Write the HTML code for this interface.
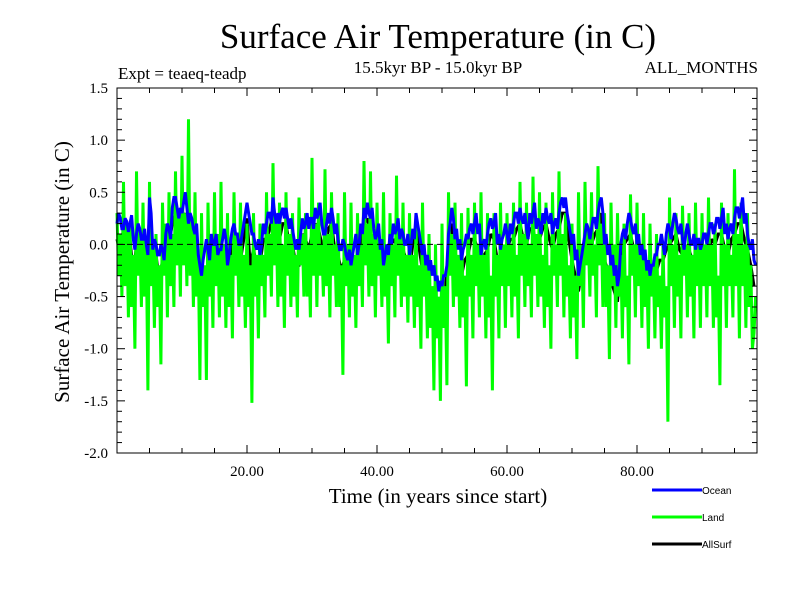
<!DOCTYPE html>
<html><head><meta charset="utf-8"><style>
html,body{margin:0;padding:0;background:#fff;}
svg{display:block;}
</style></head><body>
<svg id="chart" width="800" height="600" xmlns="http://www.w3.org/2000/svg">
<rect width="800" height="600" fill="#fff"/>
<text x="438" y="48" text-anchor="middle" font-family="Liberation Serif, serif" font-size="35">Surface Air Temperature (in C)</text>
<text x="118" y="79" font-family="Liberation Serif, serif" font-size="17">Expt = teaeq-teadp</text>
<text x="438" y="73" text-anchor="middle" font-family="Liberation Serif, serif" font-size="17">15.5kyr BP - 15.0kyr BP</text>
<text x="758" y="73" text-anchor="end" font-family="Liberation Serif, serif" font-size="17">ALL_MONTHS</text>
<text transform="translate(69,272) rotate(-90)" text-anchor="middle" font-family="Liberation Serif, serif" font-size="21">Surface Air Temperature (in C)</text>
<text x="438" y="503" text-anchor="middle" font-family="Liberation Serif, serif" font-size="21">Time (in years since start)</text>
<g id="plot"></g>
<g id="axes"></g>
<g id="legend"></g>
</svg>
<script>
const yTicks=[1.5,1.0,0.5,0.0,-0.5,-1.0,-1.5,-2.0];
const yTickLabels=["1.5","1.0","0.5","0.0","-0.5","-1.0","-1.5","-2.0"];
const xTicks=[20,40,60,80];
const xTickLabels=["20.00","40.00","60.00","80.00"];
const seriesNames=["Ocean","Land","AllSurf"];
const timeStep=0.25;
const allSurfStep=0.5;
const landValues=[0.3,-0.3,0.1,-0.5,0.6,-0.4,0.2,-0.7,0.2,-0.6,-0.1,-1.0,0.7,-0.3,0.1,-0.6,0.4,-0.5,0.0,-1.4,
0.6,-0.4,0.0,-0.8,0.1,-0.6,-0.2,-1.15,0.4,-0.3,0.2,-0.7,0.5,-0.4,0.1,-0.6,0.7,-0.2,0.3,-0.5,
0.85,-0.2,0.3,-0.4,1.2,-0.3,0.2,-0.6,0.5,-0.5,-0.1,-1.3,0.3,-0.6,-0.2,-1.3,0.4,-0.5,0.0,-0.8,
0.5,-0.4,0.1,-0.7,0.6,-0.5,0.0,-0.8,0.3,-0.6,-0.1,-0.9,0.5,-0.3,0.1,-0.6,0.4,-0.5,-0.1,-0.8,
0.2,-0.6,-0.2,-1.52,0.3,-0.5,-0.1,-0.9,0.2,-0.4,-0.1,-0.7,0.5,-0.3,0.1,-0.5,0.78,-0.2,0.2,-0.6,
0.4,-0.5,0.0,-0.8,0.5,-0.3,0.1,-0.6,0.3,-0.5,-0.1,-0.7,0.45,-0.2,0.1,-0.5,0.3,-0.5,0.0,-0.7,
0.83,-0.3,0.2,-0.6,0.4,-0.3,0.0,-0.5,0.72,-0.4,0.1,-0.7,0.5,-0.3,0.0,-0.6,0.3,-0.6,-0.2,-1.25,
0.5,-0.4,0.0,-0.7,0.4,-0.5,-0.1,-0.8,0.3,-0.4,0.0,-0.6,0.8,-0.2,0.2,-0.5,0.7,-0.4,0.1,-0.7,
0.4,-0.3,0.0,-0.6,0.5,-0.5,-0.1,-0.95,0.3,-0.4,0.0,-0.7,0.66,-0.3,0.1,-0.6,0.4,-0.5,-0.1,-0.75,
0.3,-0.5,-0.1,-0.8,0.2,-0.6,-0.2,-1.0,0.4,-0.5,-0.2,-0.9,0.1,-0.8,-0.4,-1.4,0.0,-0.9,-0.5,-1.5,
0.2,-0.8,-0.4,-1.35,0.5,-0.3,0.1,-0.6,0.4,-0.5,-0.1,-0.8,0.3,-0.7,-0.3,-1.36,0.35,-0.5,-0.1,-0.9,
0.4,-0.4,0.0,-0.7,0.5,-0.5,-0.1,-0.9,0.3,-0.7,-0.3,-1.4,0.3,-0.5,-0.1,-0.9,0.4,-0.4,0.0,-0.8,
0.3,-0.4,0.0,-0.7,0.4,-0.5,-0.1,-0.9,0.6,-0.3,0.1,-0.6,0.4,-0.4,0.0,-0.7,0.65,-0.3,0.1,-0.6,
0.5,-0.5,-0.1,-0.8,0.4,-0.6,-0.2,-1.0,0.5,-0.3,0.0,-0.6,0.7,-0.3,0.1,-0.7,0.3,-0.5,-0.2,-0.9,
0.2,-0.7,-0.3,-1.1,0.5,-0.4,0.0,-0.8,0.6,-0.2,0.1,-0.5,0.5,-0.3,0.0,-0.7,0.75,-0.2,0.2,-0.6,
0.3,-0.6,-0.2,-1.1,0.4,-0.4,0.0,-0.8,0.3,-0.5,-0.1,-0.9,0.2,-0.6,-0.3,-1.15,0.48,-0.3,0.0,-0.7,
0.4,-0.4,0.0,-0.8,0.3,-0.6,-0.2,-1.0,0.2,-0.5,-0.2,-0.9,0.1,-0.6,-0.3,-1.0,0.0,-0.7,-0.4,-1.7,
0.45,-0.4,0.0,-0.8,0.3,-0.5,-0.1,-0.9,0.37,-0.3,0.0,-0.7,0.3,-0.5,-0.1,-0.9,0.4,-0.4,0.0,-0.8,
0.3,-0.4,0.0,-0.7,0.45,-0.4,0.0,-0.8,0.2,-0.7,-0.3,-1.35,0.4,-0.4,0.0,-0.8,0.3,-0.4,-0.1,-0.7,
0.72,-0.4,0.1,-0.9,0.4,-0.4,0.0,-0.8,0.3,-0.6,-0.2,-1.0,-0.85,-0.5];
const oceanValues=[0.2,0.3,0.25,0.15,0.15,0.25,0.22,0.12,0.2,0.28,0.05,-0.05,0.1,0.2,0.15,0.05,0.05,0.15,0.0,-0.1,
0.45,0.3,-0.05,0.05,0.0,-0.1,-0.1,0.0,-0.05,-0.15,0.1,0.2,0.15,0.05,0.35,0.45,0.45,0.35,0.25,0.35,
0.3,0.4,0.5,0.35,0.2,0.3,0.25,0.15,0.1,0.2,-0.1,-0.2,-0.3,-0.15,-0.05,0.05,-0.05,-0.15,0.1,0.0,
0.0,0.1,-0.1,-0.05,-0.05,0.05,0.15,0.05,-0.2,-0.1,0.05,0.15,0.2,0.1,0.1,0.0,0.0,0.1,0.2,0.3,
0.4,0.3,0.2,0.1,0.1,0.0,-0.05,0.05,-0.1,0.0,0.2,0.1,0.2,0.3,0.3,0.2,0.45,0.3,0.2,0.3,
0.2,0.3,0.35,0.25,0.35,0.25,0.15,0.25,0.15,0.05,-0.05,0.05,-0.05,0.1,0.25,0.15,0.2,0.3,0.15,0.25,
0.25,0.15,0.35,0.25,0.3,0.4,0.2,0.1,0.1,0.2,0.3,0.2,0.35,0.25,0.1,0.2,0.05,-0.05,-0.05,0.05,
0.0,-0.1,-0.15,-0.05,-0.2,-0.1,0.0,0.1,-0.1,0.0,0.2,0.1,0.35,0.25,0.4,0.3,0.25,0.35,0.15,0.05,
0.1,0.2,-0.05,0.05,-0.2,-0.1,0.0,-0.1,0.1,0.0,0.2,0.1,0.15,0.25,0.05,0.15,0.1,0.0,0.0,0.1,
-0.1,0.0,0.15,0.05,0.3,0.2,0.1,0.0,-0.1,0.0,-0.2,-0.1,-0.25,-0.15,-0.3,-0.2,-0.35,-0.3,-0.45,-0.35,
-0.4,-0.3,-0.3,-0.2,0.1,0.2,0.35,0.25,0.05,0.15,-0.05,0.05,-0.15,-0.05,0.0,0.1,0.05,0.15,0.2,0.1,
0.2,0.3,0.1,0.2,-0.1,0.0,0.05,-0.05,0.1,0.2,0.25,0.15,0.2,0.3,0.0,0.1,-0.05,0.05,0.1,0.2,
0.1,0.0,0.2,0.1,0.2,0.3,0.3,0.2,0.35,0.25,0.2,0.3,0.15,0.05,0.3,0.2,0.3,0.4,0.15,0.25,
0.2,0.1,0.3,0.2,0.35,0.25,0.2,0.3,0.1,0.2,0.25,0.15,0.3,0.4,0.45,0.35,0.45,0.3,0.2,0.1,
0.0,0.1,-0.15,-0.05,-0.3,-0.2,-0.1,0.0,0.1,0.2,0.15,0.05,0.15,0.25,0.25,0.15,0.3,0.4,0.45,0.3,
0.0,0.1,-0.1,0.0,-0.2,-0.1,-0.3,-0.2,-0.4,-0.3,0.0,0.1,0.15,0.05,0.2,0.3,0.25,0.15,0.1,0.2,
0.0,0.1,-0.1,0.0,-0.15,-0.05,-0.25,-0.15,-0.3,-0.2,-0.2,-0.1,-0.1,0.0,0.0,0.1,0.0,-0.1,0.1,0.2,
0.15,0.05,0.2,0.3,0.25,0.15,0.1,0.2,0.05,-0.05,0.1,0.2,0.1,0.0,0.0,0.1,-0.05,0.05,0.05,-0.05,
0.0,0.1,0.1,0.0,0.1,0.2,0.2,0.1,0.15,0.25,0.25,0.15,0.25,0.35,0.1,0.2,0.05,0.15,0.2,0.1,
0.25,0.35,0.35,0.25,0.35,0.45,0.2,0.3,0.1,0.0,-0.05,0.05,-0.15,-0.2];
const allSurfValues=[0.05,-0.1,0.0,-0.15,0.05,-0.3,0.0,-0.2,-0.1,-0.35,
0.3,-0.2,-0.1,-0.35,-0.15,-0.05,0.0,0.2,0.3,0.05,
0.2,0.3,0.05,0.0,-0.05,-0.25,-0.45,-0.3,-0.2,-0.05,
-0.15,-0.25,-0.2,0.0,-0.35,-0.1,0.05,-0.05,-0.15,0.05,
0.25,-0.2,-0.05,-0.2,-0.2,0.05,0.05,0.15,0.3,0.0,
0.05,0.2,0.2,0.0,0.0,-0.2,-0.2,0.1,0.05,-0.05,
0.1,0.2,0.15,0.0,-0.05,0.15,0.2,-0.05,-0.1,-0.25,
-0.15,-0.3,-0.35,-0.15,-0.25,0.05,0.2,0.25,0.1,0.0,
-0.05,-0.2,-0.35,-0.15,-0.05,0.05,0.0,-0.1,-0.05,-0.15,
-0.25,0.0,0.15,-0.05,-0.25,-0.35,-0.4,-0.45,-0.5,-0.62,
-0.55,-0.45,-0.05,0.2,-0.1,-0.2,-0.3,-0.15,-0.1,0.05,
0.05,-0.05,-0.25,-0.1,-0.05,0.1,0.05,-0.15,-0.2,-0.05,
-0.05,0.05,0.05,0.15,0.2,0.05,0.0,0.15,0.15,0.0,
0.05,0.15,0.2,0.05,-0.05,0.1,0.15,0.3,0.3,0.05,
-0.15,-0.3,-0.45,-0.25,-0.05,0.0,0.0,0.1,0.15,0.3,
-0.15,-0.25,-0.35,-0.45,-0.55,-0.15,0.0,0.05,0.1,-0.05,
-0.15,-0.25,-0.3,-0.4,-0.45,-0.35,-0.25,-0.15,-0.15,-0.05,
0.0,0.05,0.1,-0.05,-0.1,-0.05,-0.05,-0.15,-0.2,-0.1,
-0.15,-0.05,-0.05,0.05,0.0,0.1,0.1,-0.05,-0.1,0.05,
0.1,0.2,0.2,0.05,-0.05,-0.2,-0.4];

const NS="http://www.w3.org/2000/svg";
const L=117,R=757,T=88,B=453;
const xMin=0,xMax=98.46,yMin=-2.0,yMax=1.5;
function xs(v){return L+(v-xMin)/(xMax-xMin)*(R-L);}
function ys(v){return B-(v-yMin)/(yMax-yMin)*(B-T);}
function mk(tag,attrs,parent){const e=document.createElementNS(NS,tag);for(const k in attrs)e.setAttribute(k,attrs[k]);parent.appendChild(e);return e;}
const plot=document.getElementById('plot');
const axes=document.getElementById('axes');
const legend=document.getElementById('legend');

function drawSeries(vals,step,color,width,name){
  const pts=vals.map((v,i)=>xs(i*step).toFixed(1)+','+ys(v).toFixed(1)).join(' ');
  const p=mk('polyline',{points:pts,fill:'none',stroke:color,'stroke-width':width,'stroke-linejoin':'miter','stroke-miterlimit':2},plot);
  
  
}
drawSeries(allSurfValues,allSurfStep,'#000000',3,'allsurf-series');
drawSeries(landValues,timeStep,'#00ff00',3,'land-series');
drawSeries(oceanValues,timeStep,'#0000ff',3,'ocean-series');

const zl=mk('line',{x1:L,x2:R,y1:ys(0),y2:ys(0),stroke:'#000','stroke-width':1,'stroke-dasharray':'6,4'},plot);



const frame=mk('rect',{x:L,y:T,width:R-L,height:B-T,fill:'none',stroke:'#000','stroke-width':1},axes);



for(let v=-2.0;v<=1.5001;v+=0.1){
  const y=ys(v);const major=Math.abs(v*2-Math.round(v*2))<1e-6;
  const len=major?8:5;
  mk('line',{x1:L,x2:L+len,y1:y,y2:y,stroke:'#000','stroke-width':1},axes);
  mk('line',{x1:R,x2:R-len,y1:y,y2:y,stroke:'#000','stroke-width':1},axes);
}
for(let v=5;v<xMax;v+=5){
  const x=xs(v);const major=v%20===0;const len=major?8:5;
  mk('line',{x1:x,x2:x,y1:B,y2:B-len,stroke:'#000','stroke-width':1},axes);
  mk('line',{x1:x,x2:x,y1:T,y2:T+len,stroke:'#000','stroke-width':1},axes);
}
yTicks.forEach((v,i)=>{
  const t=mk('text',{x:L-9,y:ys(v)+5,'text-anchor':'end','font-family':'Liberation Serif, serif','font-size':15},axes);
  t.textContent=yTickLabels[i];
  
  
});
xTicks.forEach((v,i)=>{
  const t=mk('text',{x:xs(v),y:B+23,'text-anchor':'middle','font-family':'Liberation Serif, serif','font-size':15},axes);
  t.textContent=xTickLabels[i];
  
  
});

const legColors=['#0000ff','#00ff00','#000000'];
seriesNames.forEach((n,i)=>{
  const y=490+i*27;
  const g=mk('g',{},legend);
  
  
  mk('line',{x1:652,x2:702,y1:y,y2:y,stroke:legColors[i],'stroke-width':3},g);
  const t=mk('text',{x:702,y:y+4,'font-family':'Liberation Sans, sans-serif','font-size':10},g);
  t.textContent=n;
});
</script>
</body></html>
